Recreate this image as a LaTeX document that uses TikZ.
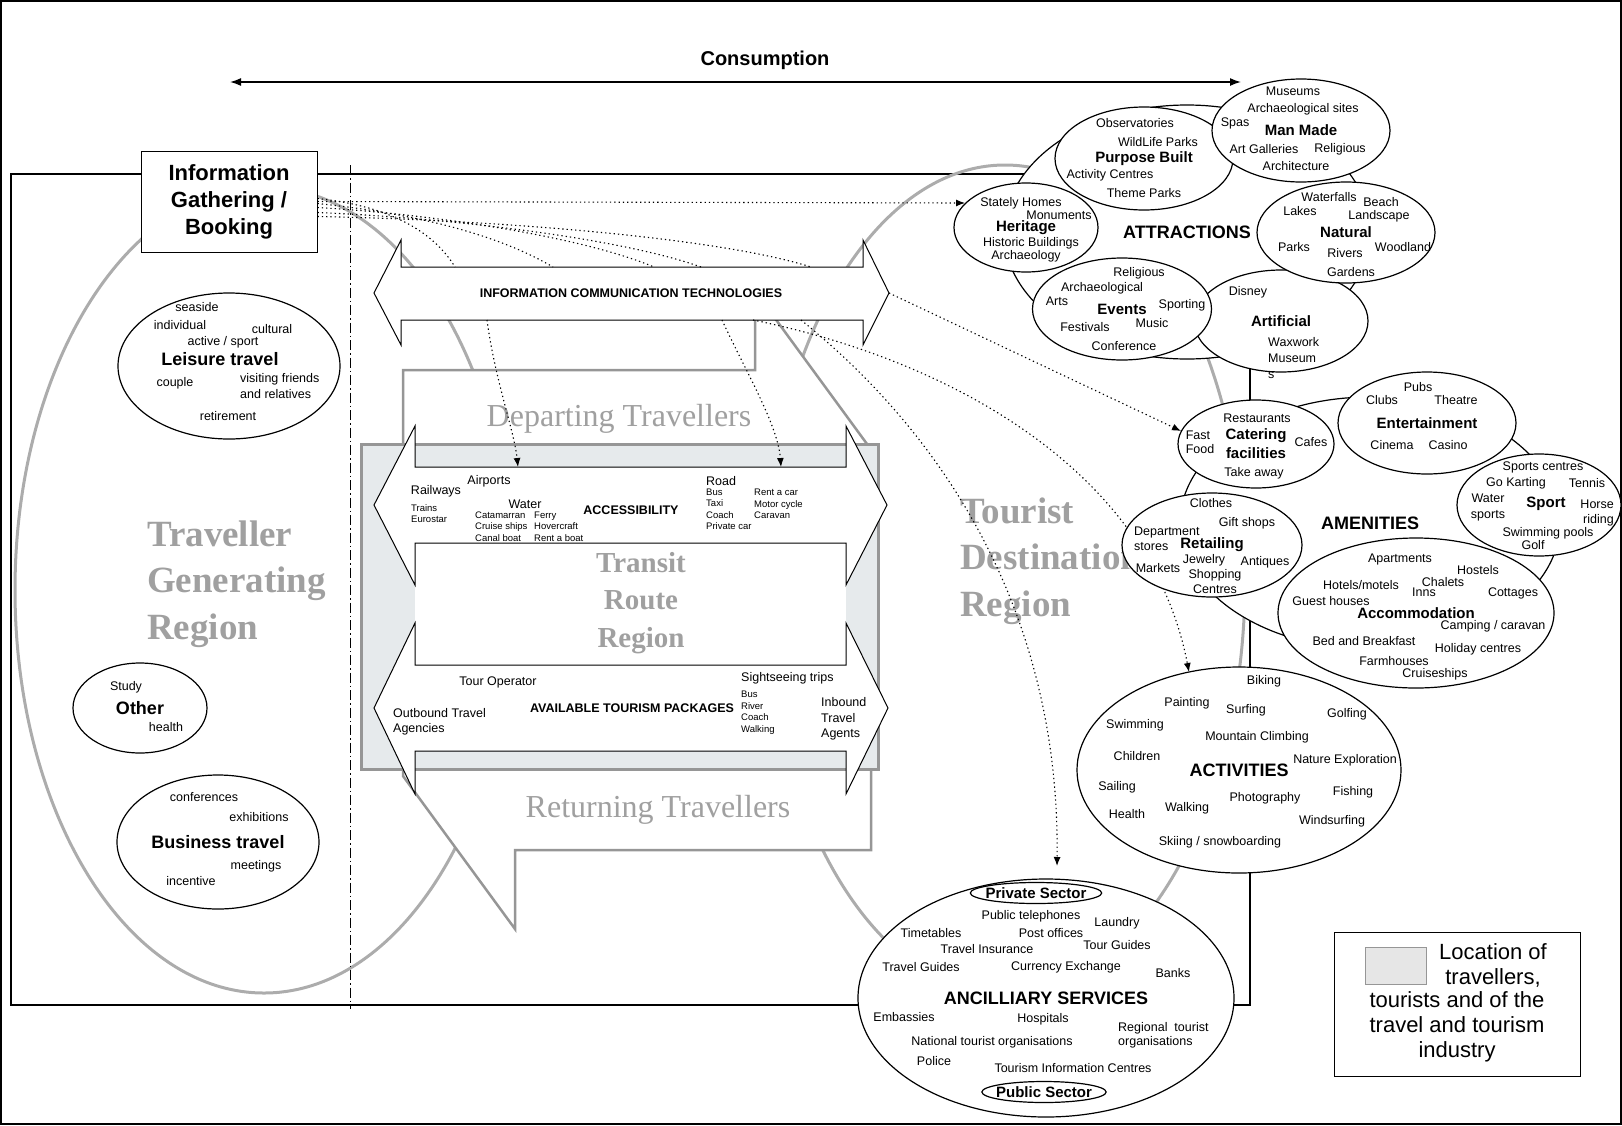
\documentclass[tikz,border=0pt]{standalone}
\usepackage{fontspec}
\setmainfont{Liberation Sans}
\newfontfamily\serifregion{Liberation Serif}
\usetikzlibrary{arrows.meta,shapes.geometric}
\definecolor{regiongrey}{RGB}{160,160,160}
\definecolor{ringgrey}{RGB}{172,172,172}
\definecolor{edgegrey}{RGB}{150,150,150}
\definecolor{transitfill}{RGB}{230,234,236}
\definecolor{legendfill}{RGB}{230,230,230}
\tikzset{
  itm/.style={inner sep=0pt,font=\fontsize{12.5}{15}\selectfont},
  minor/.style={inner sep=0pt,align=left,font=\fontsize{9.5}{11.5}\selectfont},
  grp/.style={ellipse,draw,line width=1.2pt,fill=white,inner sep=0pt,align=center,
              font=\bfseries\fontsize{15}{19}\selectfont},
  cluster/.style={grp,font=\bfseries\fontsize{18}{21}\selectfont},
  ghdr/.style={inner sep=0pt,font=\bfseries\fontsize{15}{19}\selectfont},
  hdr/.style={inner sep=0pt,font=\bfseries\fontsize{12.5}{15}\selectfont},
  region/.style={inner sep=0pt,align=left,text=regiongrey,
                 font=\serifregion\bfseries\fontsize{37}{46.5}\selectfont},
  flowtext/.style={inner sep=0pt,text=regiongrey,font=\serifregion\fontsize{32}{36}\selectfont},
  ring/.style={draw=ringgrey,line width=3pt},
  bubble/.style={draw=edgegrey,line width=2.5pt,fill=white},
  blockarr/.style={draw,line width=1pt,fill=white},
  link/.style={line width=1.1pt,dash pattern=on 1.3pt off 3pt,-{Latex[length=9pt,width=7pt]}},
  linkplain/.style={line width=1.1pt,dash pattern=on 1.3pt off 3pt},
  infobox/.style={draw,line width=1pt,fill=white,align=center,minimum width=176pt,
                  minimum height=101pt,font=\bfseries\fontsize{22}{27}\selectfont},
  legtext/.style={inner sep=0pt,align=center,font=\fontsize{22}{25}\selectfont}
}

\begin{document}
\begin{tikzpicture}[x=1pt,y=-1pt]
  \useasboundingbox (0,0) rectangle (1622,1125);
  \draw[line width=1.5pt] (1,1) rectangle (1621,1124);

  \draw[line width=1.3pt] (11,174) rectangle (1250,1005);
  \draw[ring] (264,590) ellipse [x radius=249, y radius=403];
  \draw[ring] (1005,580) ellipse [x radius=240, y radius=415];
  \node[region,anchor=west] (tgr) at (147,584) {Traveller\\Generating\\Region};
  \node[region,anchor=west] (tdr) at (960,561) {Tourist\\Destination\\Region};
  \draw[line width=1pt,dash pattern=on 10pt off 3pt on 1.5pt off 3pt] (350,165) -- (350,1009);

  \draw[bubble] (403,480) -- (403,370) -- (755,370) -- (755,291) -- (867,444) -- (867,480) -- cycle;
  \draw[bubble] (871,750) -- (871,850) -- (515,850) -- (515,929) -- (403,776) -- (403,750) -- cycle;
  \draw[draw=edgegrey,line width=3pt,fill=transitfill] (361,444) rectangle (878,769);
  \fill[white] (415,543) rectangle (846,665);
  \node[region,align=center,font=\serifregion\bfseries\fontsize{29}{37.5}\selectfont] (trr) at (641,603) {Transit\\Route\\Region};
  \node[flowtext] (dep) at (619,419) {Departing Travellers};
  \node[flowtext] (ret) at (658,810) {Returning Travellers};

  \draw[blockarr] (374,293) -- (401,240) -- (401,267) -- (863,267) -- (863,240) -- (889,293)
    -- (863,345) -- (863,320) -- (401,320) -- (401,345) -- cycle;
  \node[hdr] (ict) at (631,293) {INFORMATION COMMUNICATION TECHNOLOGIES};

  \draw[blockarr] (374,505) -- (415,426) -- (415,467) -- (846,467) -- (846,426) -- (887,505)
    -- (846,585) -- (846,543) -- (415,543) -- (415,585) -- cycle;
  \node[itm] (ax1) at (489,481) {Airports};
  \node[itm] (ax2) at (436,491) {Railways};
  \node[minor,anchor=west] (ax3) at (411,513.5) {Trains\\Eurostar};
  \node[itm] (ax4) at (525,504) {Water};
  \node[minor,anchor=west] (ax5) at (475,526.5) {Catamarran\\Cruise ships\\Canal boat};
  \node[minor,anchor=west] (ax6) at (534,526.5) {Ferry\\Hovercraft\\Rent a boat};
  \node[hdr] (access) at (631,510) {ACCESSIBILITY};
  \node[itm,anchor=west] (ax7) at (706,481) {Road};
  \node[minor,anchor=west] (ax8) at (706,509.5) {Bus\\Taxi\\Coach\\Private car};
  \node[minor,anchor=west] (ax9) at (754,504) {Rent a car\\Motor cycle\\Caravan};

  \draw[blockarr] (374,708) -- (415,623) -- (415,665) -- (846,665) -- (846,623) -- (888,708)
    -- (846,794) -- (846,751) -- (415,751) -- (415,794) -- cycle;
  \node[itm] (pk1) at (498,682.5) {Tour Operator};
  \node[itm,anchor=west,align=left] (pk2) at (393,721.5) {Outbound Travel\\Agencies};
  \node[hdr] (packages) at (632,708) {AVAILABLE TOURISM PACKAGES};
  \node[itm,anchor=west] (pk3) at (741,678) {Sightseeing trips};
  \node[minor,anchor=west] (pk4) at (741,712.5) {Bus\\River\\Coach\\Walking};
  \node[itm,anchor=west,align=left,font=\fontsize{12.5}{15.5}\selectfont] (pk5) at (821,719) {Inbound\\Travel\\Agents};

  \node[infobox] (info) at (229,201.5) {Information\\Gathering /\\Booking};

  \coordinate (ictA) at (455,267);
  \coordinate (ictB) at (553,267);
  \coordinate (ictC) at (654,267);
  \coordinate (ictD) at (701,267);
  \coordinate (ictE) at (811,267);
  \coordinate (ictF) at (487,320);
  \coordinate (ictG) at (722,320);
  \coordinate (ictH) at (753,320);
  \coordinate (ictI) at (801,320);
  \coordinate (ictTip) at (889,293);
  \coordinate (axA) at (518,467);
  \coordinate (axB) at (781,467);
  \coordinate (herIn) at (965,203);
  \coordinate (catIn) at (1181,431);
  \coordinate (actIn) at (1189,672);
  \coordinate (ancIn) at (1057,866);

  \draw[link] (info.east) -- (herIn);
  \draw[linkplain] ([yshift=3pt]info.east) .. controls (380,205) and (430,226) .. (ictA);
  \draw[linkplain] ([yshift=-2pt]info.east) .. controls (400,212) and (490,230) .. (ictB);
  \draw[linkplain] ([yshift=-6pt]info.east) .. controls (430,214) and (580,236) .. (ictC);
  \draw[linkplain] ([yshift=-11pt]info.east) .. controls (450,218) and (620,238) .. (ictD);
  \draw[linkplain] ([yshift=-15pt]info.east) .. controls (500,220) and (720,238) .. (ictE);
  \draw[link] (ictF) .. controls (495,380) and (514,430) .. (axA);
  \draw[link] (ictG) .. controls (745,370) and (778,425) .. (axB);
  \draw[link] (ictTip) -- (catIn);
  \draw[link] (ictH) .. controls (950,360) and (1150,470) .. (actIn);
  \draw[link] (ictI) .. controls (950,440) and (1060,620) .. (ancIn);

  \node[cluster,minimum width=366pt,minimum height=254pt] (attr) at (1187,232) {ATTRACTIONS};
  \node[grp,minimum width=174pt,minimum height=102pt] (artificial) at (1281,321) {Artificial};
  \node[itm] (ar1) at (1248,292) {Disney};
  \node[itm,anchor=west,align=left,font=\fontsize{12.5}{16}\selectfont] (ar2) at (1268,358) {Waxwork\\Museum\\s};
  \node[grp,minimum width=178pt,minimum height=103pt] (purpose) at (1144,158.5) {Purpose Built};
  \node[itm] (pb1) at (1135,123) {Observatories};
  \node[itm] (pb2) at (1158,142) {WildLife Parks};
  \node[itm] (pb3) at (1110,175) {Activity Centres};
  \node[itm] (pb4) at (1144,193) {Theme Parks};
  \node[grp,minimum width=178pt,minimum height=103pt] (manmade) at (1301,130.5) {Man Made};
  \node[itm] (mm1) at (1293,91) {Museums};
  \node[itm] (mm2) at (1303,109) {Archaeological sites};
  \node[itm] (mm3) at (1235,123) {Spas};
  \node[itm] (mm4) at (1264,149) {Art Galleries};
  \node[itm] (mm5) at (1340,149) {Religious};
  \node[itm] (mm6) at (1296,166) {Architecture};
  \node[grp,minimum width=144pt,minimum height=89pt] (heritage) at (1026,227.5) {Heritage};
  \node[itm] (he1) at (1021,203) {Stately Homes};
  \node[itm] (he2) at (1059,215) {Monuments};
  \node[itm] (he3) at (1031,243) {Historic Buildings};
  \node[itm] (he4) at (1026,256) {Archaeology};
  \node[grp,minimum width=179pt,minimum height=102pt] (events) at (1122,309) {Events};
  \node[itm] (ev1) at (1139,273) {Religious};
  \node[itm] (ev2) at (1102,288) {Archaeological};
  \node[itm] (ev3) at (1057,301) {Arts};
  \node[itm] (ev4) at (1182,305) {Sporting};
  \node[itm] (ev5) at (1085,327) {Festivals};
  \node[itm] (ev6) at (1152,323) {Music};
  \node[itm] (ev7) at (1124,346) {Conference};
  \node[grp,minimum width=178pt,minimum height=101pt] (natural) at (1346,232.5) {Natural};
  \node[itm] (na1) at (1329,197) {Waterfalls};
  \node[itm] (na2) at (1381,202) {Beach};
  \node[itm] (na3) at (1300,211) {Lakes};
  \node[itm] (na4) at (1379,216) {Landscape};
  \node[itm] (na5) at (1294,247) {Parks};
  \node[itm] (na6) at (1345,253) {Rivers};
  \node[itm] (na7) at (1403,247) {Woodland};
  \node[itm] (na8) at (1351,272) {Gardens};

  \node[cluster,minimum width=380pt,minimum height=252pt] (amen) at (1370,523) {AMENITIES};
  \node[grp,minimum width=156pt,minimum height=88pt] (catering) at (1256,444) {Catering\\facilities};
  \node[itm] (ca1) at (1257,418) {Restaurants};
  \node[itm,align=left,font=\fontsize{12.5}{14}\selectfont] (ca2) at (1200,442) {Fast\\Food};
  \node[itm] (ca3) at (1311,442) {Cafes};
  \node[itm] (ca4) at (1254,473) {Take away};
  \node[grp,minimum width=178pt,minimum height=102pt] (entertain) at (1427,423) {Entertainment};
  \node[itm] (en1) at (1418,387) {Pubs};
  \node[itm] (en2) at (1382,400) {Clubs};
  \node[itm] (en3) at (1456,400) {Theatre};
  \node[itm] (en4) at (1392,445) {Cinema};
  \node[itm] (en5) at (1448,445) {Casino};
  \node[grp,minimum width=164pt,minimum height=102pt] (sport) at (1539,505) {};
  \node[ghdr] (sp0) at (1546,504) {Sport};
  \node[itm] (sp1) at (1543,467) {Sports centres};
  \node[itm] (sp2) at (1516,483) {Go Karting};
  \node[itm] (sp3) at (1587,483) {Tennis};
  \node[itm,align=center,font=\fontsize{12.5}{16}\selectfont] (sp4) at (1488,507) {Water\\sports};
  \node[itm,anchor=east,align=right] (sp5) at (1614,512.5) {Horse\\riding};
  \node[itm] (sp6) at (1548,533) {Swimming pools};
  \node[itm] (sp7) at (1533,545) {Golf};
  \node[grp,minimum width=180pt,minimum height=104pt] (retail) at (1212,545) {Retailing};
  \node[itm] (re1) at (1211,503) {Clothes};
  \node[itm] (re2) at (1247,523) {Gift shops};
  \node[itm,anchor=west,align=left] (re3) at (1134,538.5) {Department\\stores};
  \node[itm] (re4) at (1204,560) {Jewelry};
  \node[itm] (re5) at (1265,562) {Antiques};
  \node[itm] (re6) at (1158,568) {Markets};
  \node[itm,align=center] (re7) at (1215,581.5) {Shopping\\Centres};
  \node[grp,minimum width=276pt,minimum height=150pt] (accom) at (1416,613) {Accommodation};
  \node[itm] (ac1) at (1400,559) {Apartments};
  \node[itm] (ac2) at (1478,570) {Hostels};
  \node[itm] (ac3) at (1361,585) {Hotels/motels};
  \node[itm] (ac4) at (1443,582) {Chalets};
  \node[itm] (ac5) at (1424,592) {Inns};
  \node[itm] (ac6) at (1513,593) {Cottages};
  \node[itm] (ac7) at (1331,601) {Guest houses};
  \node[itm] (ac8) at (1493,626) {Camping / caravan};
  \node[itm] (ac9) at (1364,641) {Bed and Breakfast};
  \node[itm] (ac10) at (1478,649) {Holiday centres};
  \node[itm] (ac11) at (1394,661) {Farmhouses};
  \node[itm] (ac12) at (1435,674) {Cruiseships};

  \node[cluster,minimum width=324pt,minimum height=206pt] (activ) at (1239,770) {ACTIVITIES};
  \node[itm] (at1) at (1264,681) {Biking};
  \node[itm] (at2) at (1187,703) {Painting};
  \node[itm] (at3) at (1246,710) {Surfing};
  \node[itm] (at4) at (1347,714) {Golfing};
  \node[itm] (at5) at (1135,725) {Swimming};
  \node[itm] (at6) at (1257,737) {Mountain Climbing};
  \node[itm] (at7) at (1137,756) {Children};
  \node[itm] (at8) at (1345,760) {Nature Exploration};
  \node[itm] (at9) at (1117,787) {Sailing};
  \node[itm] (at10) at (1353,792) {Fishing};
  \node[itm] (at11) at (1265,798) {Photography};
  \node[itm] (at12) at (1127,814) {Health};
  \node[itm] (at13) at (1187,808) {Walking};
  \node[itm] (at14) at (1332,821) {Windsurfing};
  \node[itm] (at15) at (1220,842) {Skiing / snowboarding};

  \node[cluster,minimum width=376pt,minimum height=238pt] (ancil) at (1046,998) {ANCILLIARY SERVICES};
  \node[grp,inner xsep=-4pt,minimum height=21pt] (private) at (1036,893) {Private Sector};
  \node[grp,inner xsep=-4pt,minimum height=21pt] (public) at (1044,1092) {Public Sector};
  \node[itm] (an1) at (1031,916) {Public telephones};
  \node[itm] (an2) at (1117,923) {Laundry};
  \node[itm] (an3) at (931,933) {Timetables};
  \node[itm] (an4) at (1051,933) {Post offices};
  \node[itm] (an5) at (1117,945) {Tour Guides};
  \node[itm] (an6) at (987,949) {Travel Insurance};
  \node[itm] (an7) at (921,967) {Travel Guides};
  \node[itm] (an8) at (1066,967) {Currency Exchange};
  \node[itm] (an9) at (1173,973) {Banks};
  \node[itm] (an10) at (904,1017) {Embassies};
  \node[itm] (an11) at (1043,1019) {Hospitals};
  \node[itm,anchor=west,align=left,font=\fontsize{12.5}{14}\selectfont] (an12) at (1118,1035) {Regional~ tourist\\organisations};
  \node[itm] (an13) at (992,1042) {National tourist organisations};
  \node[itm] (an14) at (934,1061) {Police};
  \node[itm] (an15) at (1073,1068) {Tourism Information Centres};

  \node[grp,minimum width=222pt,minimum height=146pt] (leisure) at (229,366) {};
  \node[ghdr,font=\bfseries\fontsize{18}{21}\selectfont] (le0) at (220,359) {Leisure travel};
  \node[itm] (le1) at (197,307) {seaside};
  \node[itm] (le2) at (180,325) {individual};
  \node[itm] (le3) at (272,329) {cultural};
  \node[itm] (le4) at (223,342) {active / sport};
  \node[itm] (le5) at (175,383) {couple};
  \node[itm,anchor=west,align=left,font=\fontsize{12.5}{16}\selectfont] (le6) at (240,386) {visiting friends\\and relatives};
  \node[itm] (le7) at (228,416) {retirement};
  \node[cluster,minimum width=134pt,minimum height=90pt] (other) at (140,708) {Other};
  \node[itm] (ot1) at (126,687) {Study};
  \node[itm] (ot2) at (166,727) {health};
  \node[cluster,minimum width=202pt,minimum height=134pt] (business) at (218,842) {Business travel};
  \node[itm] (bu1) at (204,797) {conferences};
  \node[itm] (bu2) at (259,817) {exhibitions};
  \node[itm] (bu3) at (256,866) {meetings};
  \node[itm] (bu4) at (191,881) {incentive};

  \node[draw,line width=1pt,fill=white,minimum width=246pt,minimum height=144pt] (legend) at (1457,1004) {};
  \node[draw=edgegrey,line width=1pt,fill=legendfill,minimum width=61pt,minimum height=37pt] (swatch) at (1395.5,965.5) {};
  \node[legtext] (leg1) at (1493,965) {Location of\\travellers,};
  \node[legtext] (leg2) at (1457,1027) {tourists and of the\\travel and tourism\\industry};

  \coordinate (consL) at (230,82);
  \coordinate (consR) at (1241,82);
  \draw[line width=1.5pt,{Latex[length=11pt,width=8pt]}-{Latex[length=11pt,width=8pt]}] (consL) -- (consR);
  \node[font=\bfseries\fontsize{20}{24}\selectfont] (consume) at (765,60) {Consumption};
\end{tikzpicture}
\end{document}
